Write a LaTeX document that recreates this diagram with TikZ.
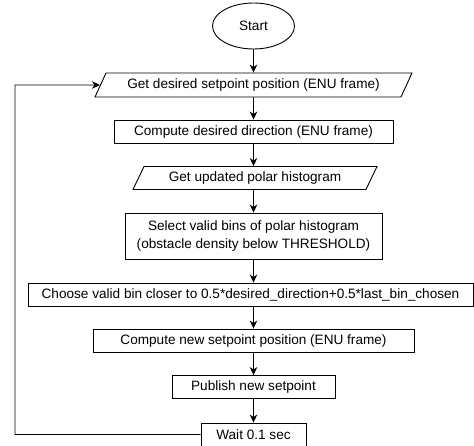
\documentclass[tikz,border=0pt]{standalone}
\usepackage{fontspec}
\setmainfont{Liberation Sans}
\usetikzlibrary{arrows.meta,shapes.geometric}

\begin{document}
\begin{tikzpicture}[x=1pt,y=-1pt,>={Stealth[length=8pt,width=7.5pt,inset=2.5pt]},
    font=\fontsize{13.6}{17.5}\selectfont,
    box/.style={draw,rectangle,line width=0.9pt,inner sep=0pt,minimum height=23pt,align=center},
    iobox/.style={draw,trapezium,line width=0.9pt,trapezium left angle=49,trapezium right angle=131,
        trapezium stretches body,inner sep=0pt,minimum height=23pt},
    flow/.style={->,line width=0.9pt}]
    \useasboundingbox (0,0) rectangle (474,446);
    \node[draw,ellipse,line width=0.9pt,minimum width=82pt,minimum height=46pt,inner sep=0pt] (start) at (253.5,26) {Start};
    \node[iobox,minimum width=317pt,minimum height=24pt] (getsp) at (253.5,85) {Get desired setpoint position (ENU frame)};
    \node[box,minimum width=279pt] (dir) at (253.5,131.5) {Compute desired direction (ENU frame)};
    \node[iobox,minimum width=244pt] (hist) at (255,178) {Get updated polar histogram};
    \node[box,minimum width=257pt,minimum height=46pt] (valid) at (253.5,236) {Select valid bins of polar histogram\\(obstacle density below THRESHOLD)};
    \node[box,minimum width=445pt] (choose) at (250.5,294.5) {Choose valid bin closer to 0.5*desired\_direction+0.5*last\_bin\_chosen};
    \node[box,minimum width=321pt] (newsp) at (253.5,340.5) {Compute new setpoint position (ENU frame)};
    \node[box,minimum width=163pt] (publish) at (253.5,387) {Publish new setpoint};
    \node[box,minimum width=105pt] (wait) at (253.5,434.5) {Wait 0.1 sec};
    \coordinate (corner) at (15,85);
    % main chain
    \draw[flow] (start) -- (getsp);
    \draw[flow] (getsp) -- (dir);
    \draw[flow] (dir) -- (dir |- hist.north);
    \draw[flow] (dir |- hist.south) -- (valid);
    \draw[flow] (valid) -- (choose.north -| valid);
    \draw[flow] (choose.south -| valid) -- (newsp);
    \draw[flow] (newsp) -- (publish);
    \draw[flow] (publish) -- (wait);
    % loop back
    \draw[flow] (wait.west) -| (corner) -- (getsp.west);
\end{tikzpicture}
\end{document}
